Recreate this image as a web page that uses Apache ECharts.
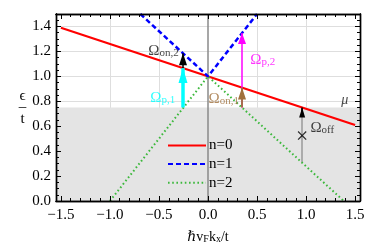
<!DOCTYPE html>
<html>
<head>
<meta charset="utf-8">
<script src="https://cdn.jsdelivr.net/npm/echarts@6/dist/echarts.min.js"></script>
<style>html,body{margin:0;padding:0;background:#fff}#c{width:374px;height:249px}</style>
</head>
<body>
<div id="c"></div>
<script>
// ---- data ----
const xMajor = [-1.5, -1.0, -0.5, 0.0, 0.5, 1.0, 1.5];
const yMajor = [0.0, 0.2, 0.4, 0.6, 0.8, 1.0, 1.2, 1.4];
const xGrid = [-1.0, -0.5, 0.5, 1.0];
const yGrid = [0.2, 0.4, 0.6, 0.8, 1.0, 1.2, 1.4];
const legendNames = ['n=0', 'n=1', 'n=2'];
const n0 = [[-1.5, 1.39], [1.5, 0.61]];
const n1 = [[-0.69, 1.5], [0.0, 1.0], [0.5, 1.5]];
const n2 = [[-1.0, 0.0], [0.0, 1.0], [1.385, 0.0]];
const MU = 0.75;
// arrows: [x, from, to]
const arrowP1 = [-0.255, 0.75, 1.066];
const arrowOn2 = [-0.255, 1.066, 1.185];
const arrowP2 = [0.347, 0.75, 1.347];
const arrowOn1 = [0.347, 0.75, 0.91];
const arrowOff = [0.96, 0.307, 0.75];
const arrowOffHead = [0.96, 0.70, 0.75];
const crossOff = [0.96, 0.525];
// labels: [x, y, main, sub]
const labOn2 = [-0.609, 1.205, 'Ω', 'on,2'];
const labP1 = [-0.588, 0.826, 'Ω', 'p,1'];
const labP2 = [0.432, 1.132, 'Ω', 'p,2'];
const labOn1 = [0.006, 0.814, 'Ω', 'on,1'];
const labOff = [1.044, 0.585, 'Ω', 'off'];
const labMu = [1.36, 0.81, 'μ'];

// minor ticks
function minorTicks(a, b, step, majors) {
  const out = [];
  const n = Math.round((b - a) / step);
  for (let i = 0; i <= n; i++) {
    const v = +(a + i * step).toFixed(4);
    if (!majors.some(m => Math.abs(m - v) < 1e-6)) out.push(v);
  }
  return out;
}
const xMinor = minorTicks(-1.5, 1.5, 0.1, xMajor);
const yMinor = minorTicks(0, 1.5, 0.05, yMajor);

const SERIF = "'Liberation Serif','DejaVu Serif',serif";
const fmt = v => (v < 0 ? '−' : '') + Math.abs(v).toFixed(1);

function xAx(pos, values, len, labels) {
  return {
    type: 'value', min: -1.55, max: 1.55, position: pos, z: 10,
    axisLine: {show: true, onZero: false, lineStyle: {color: '#000', width: 1.4}},
    axisTick: {show: true, inside: true, length: len, customValues: values, lineStyle: {color: '#000', width: 1}},
    axisLabel: labels ? {show: true, customValues: values, formatter: fmt, fontFamily: SERIF, fontSize: 15, color: '#000', margin: 7} : {show: false},
    splitLine: {show: false}
  };
}
function yAx(pos, values, len, labels) {
  return {
    type: 'value', min: 0, max: 1.5, position: pos, z: 10,
    axisLine: {show: true, onZero: false, lineStyle: {color: '#000', width: 1.4}},
    axisTick: {show: true, inside: true, length: len, customValues: values, lineStyle: {color: '#000', width: 1}},
    axisLabel: labels ? {show: true, customValues: values, formatter: v => v.toFixed(1), fontFamily: SERIF, fontSize: 15, color: '#000', margin: 5} : {show: false},
    splitLine: {show: false}
  };
}

const xAxes = [xAx('bottom', xMajor, 5, true), xAx('bottom', xMinor, 3, false), xAx('top', xMajor, 5, false), xAx('top', xMinor, 3, false)];
const yAxes = [yAx('left', yMajor, 5, true), yAx('left', yMinor, 3, false), yAx('right', yMajor, 5, false), yAx('right', yMinor, 3, false)];
xAxes[0].name = '{a|ℏv}{s|F}{a|k}{s|x}{a|/t}';
xAxes[0].nameLocation = 'middle';
xAxes[0].nameGap = 29;
xAxes[0].nameTextStyle = {
  rich: {
    a: {fontFamily: SERIF, fontSize: 14, color: '#000', verticalAlign: 'top', lineHeight: 14, padding: [0, 0, 4, 0]},
    s: {fontFamily: SERIF, fontSize: 10, color: '#000', verticalAlign: 'bottom', lineHeight: 10}
  }
};
yAxes[0].name = 'ϵ\n–\nt';
yAxes[0].nameLocation = 'middle';
yAxes[0].nameRotate = 0;
yAxes[0].nameGap = 33;
yAxes[0].nameTextStyle = {fontFamily: SERIF, fontSize: 15, color: '#000', lineHeight: 11.5, align: 'center'};

function arrowSeries(a, color, width, head) {
  return {
    type: 'line', data: [], xAxisIndex: 0, yAxisIndex: 0, silent: true,
    markLine: {
      silent: true, animation: false, z: 6, label: {show: false},
      symbol: ['none', 'triangle'],
      lineStyle: {color: color, width: width, type: 'solid'},
      itemStyle: {color: color},
      data: [[{coord: [a[0], a[1]]}, {coord: [a[0], a[2]], symbolSize: head, symbolOffset: [0, head[1] / 2]}]]
    }
  };
}
function subLabel(l, color) {
  return {
    value: [l[0], l[1]],
    label: {
      show: true, position: 'right', distance: 0,
      formatter: '{a|' + l[2] + '}' + (l[3] ? '{s|' + l[3] + '}' : ''),
      rich: {
        a: {fontFamily: SERIF, fontSize: 15, color: color, verticalAlign: 'top', lineHeight: 15, padding: [0, 0, 4, 0]},
        s: {fontFamily: SERIF, fontSize: 11, color: color, verticalAlign: 'bottom', lineHeight: 11}
      }
    }
  };
}

const chart = echarts.init(document.getElementById('c'), null, {renderer: 'canvas'});
chart.setOption({
  animation: false,
  backgroundColor: '#fff',
  grid: {left: 56, right: 14, top: 14, bottom: 48, containLabel: false, outerBoundsMode: 'none'},
  legend: {
    data: legendNames, orient: 'vertical', left: 167, top: 138, padding: 0,
    itemWidth: 38, itemHeight: 14, itemGap: 3.6,
    itemStyle: {opacity: 0},
    textStyle: {fontFamily: SERIF, fontSize: 15, color: '#000', padding: [0, 0, 0, -2]}
  },
  xAxis: xAxes,
  yAxis: yAxes,
  series: [
    // grid lines
    {type: 'line', data: [], silent: true,
     markLine: {silent: true, animation: false, z: 0.5, symbol: ['none', 'none'], label: {show: false},
       lineStyle: {color: '#dedede', width: 1, type: 'solid'},
       data: xGrid.map(v => ({xAxis: v})).concat(yGrid.map(v => ({yAxis: v})))}},
    // shaded region below mu
    {type: 'line', data: [], silent: true,
     markArea: {silent: true, z: 1, itemStyle: {color: '#e4e4e4'}, data: [[{yAxis: 0}, {yAxis: MU}]]}},
    // x = 0 line
    {type: 'line', data: [], silent: true,
     markLine: {silent: true, animation: false, z: 1.5, symbol: ['none', 'none'], label: {show: false},
       lineStyle: {color: '#8a8a8a', width: 1.5, type: 'solid'}, data: [{xAxis: 0}]}},
    // Omega_off shaft (gray)
    {type: 'line', data: [], silent: true,
     markLine: {silent: true, animation: false, z: 1.6, symbol: ['none', 'none'], label: {show: false},
       lineStyle: {color: '#9a9a9a', width: 1.5, type: 'solid'},
       data: [[{coord: [arrowOff[0], arrowOff[1]]}, {coord: [arrowOff[0], arrowOff[2]]}]]}},
    {name: 'n=0', type: 'line', data: n0, symbol: 'none', showSymbol: false, z: 3,
     lineStyle: {color: '#ff0000', width: 2.2}, itemStyle: {color: '#ff0000'}},
    {name: 'n=1', type: 'line', data: n1, symbol: 'none', showSymbol: false, z: 3,
     lineStyle: {color: '#0000ff', width: 2.5, type: [5, 3]}, itemStyle: {color: '#0000ff'}},
    {name: 'n=2', type: 'line', data: n2, symbol: 'none', showSymbol: false, z: 3,
     lineStyle: {color: '#3cb83c', width: 2, type: [1.6, 2.6]}, itemStyle: {color: '#3cb83c'}},
    arrowSeries(arrowP1, '#00ffff', 3.5, [9, 15]),
    arrowSeries(arrowOn2, '#000000', 1.5, [8, 12]),
    arrowSeries(arrowP2, '#ff00ff', 1.5, [8, 11]),
    arrowSeries(arrowOn1, '#a0703c', 1.8, [8, 12]),
    arrowSeries(arrowOffHead, '#000000', 1.5, [6, 10]),
    // cross marker
    {type: 'scatter', data: [crossOff], z: 7, silent: true,
     symbol: 'path://M1,0L5,4L9,0L10,1L6,5L10,9L9,10L5,6L1,10L0,9L4,5L0,1Z', symbolSize: 9,
     itemStyle: {color: '#000'}},
    // text labels
    {type: 'scatter', symbolSize: 0, z: 8, silent: true,
     data: [subLabel(labOn2, '#111'), subLabel(labP1, '#00ffff'), subLabel(labP2, '#ff00ff'),
            subLabel(labOn1, '#a0703c'), subLabel(labOff, '#111'),
            {value: [labMu[0], labMu[1]], label: {show: true, position: 'right', distance: 0, formatter: labMu[2],
              fontFamily: SERIF, fontStyle: 'italic', fontSize: 14, color: '#111'}}]}
  ]
});
</script>
</body>
</html>
